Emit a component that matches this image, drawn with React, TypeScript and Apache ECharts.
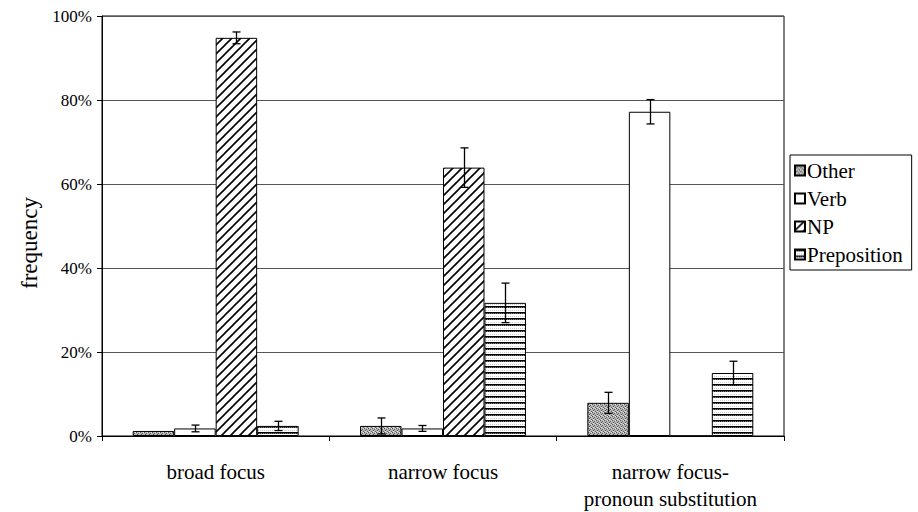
import React, { useEffect, useRef } from 'react';
import * as echarts from 'echarts';

const categories = ['broad focus', 'narrow focus', 'narrow focus-\npronoun substitution'];
const seriesNames = ['Other', 'Verb', 'NP', 'Preposition'];
const otherValues = [1.2, 2.4, 7.9];
const verbValues = [1.8, 1.8, 77.2];
const npValues = [94.8, 63.9, 0];
const prepValues = [2.4, 31.7, 15.0];
const otherErrors = [0, 1.9, 2.5];
const verbErrors = [0.8, 0.7, 2.9];
const npErrors = [1.4, 4.7, 0];
const prepErrors = [1.1, 4.7, 2.8];

const FONT = "'Liberation Serif', 'Times New Roman', serif";
const GAP = 0.27;

function makePattern(w: number, h: number, draw: (ctx: CanvasRenderingContext2D) => void) {
  const c = document.createElement('canvas');
  c.width = w;
  c.height = h;
  const ctx = c.getContext('2d') as CanvasRenderingContext2D;
  draw(ctx);
  return { image: c.toDataURL(), imageWidth: w, imageHeight: h, repeat: 'repeat' };
}

function px(ctx: CanvasRenderingContext2D, x: number, y: number, col: string) {
  ctx.fillStyle = col;
  ctx.fillRect(x, y, 1, 1);
}

export default function App() {
  const ref = useRef<HTMLDivElement>(null);
  useEffect(() => {
    if (!ref.current) return;
    const chart = echarts.init(ref.current, null, { renderer: 'svg' });

    const stipple = makePattern(4, 4, (ctx) => {
      ctx.fillStyle = '#b4b4b4';
      ctx.fillRect(0, 0, 4, 4);
      px(ctx, 0, 0, '#505050');
      px(ctx, 2, 1, '#606060');
      px(ctx, 1, 2, '#505050');
      px(ctx, 3, 3, '#606060');
      px(ctx, 3, 0, '#e6e6e6');
      px(ctx, 1, 3, '#e6e6e6');
    });
    const hatch = makePattern(9, 9, (ctx) => {
      ctx.fillStyle = '#ffffff';
      ctx.fillRect(0, 0, 9, 9);
      ctx.strokeStyle = '#000000';
      ctx.lineWidth = 1.6;
      ctx.beginPath();
      ctx.moveTo(-1, 10);
      ctx.lineTo(10, -1);
      ctx.moveTo(-2, 2);
      ctx.lineTo(2, -2);
      ctx.moveTo(7, 11);
      ctx.lineTo(11, 7);
      ctx.stroke();
    });
    const stripes = makePattern(2, 6, (ctx) => {
      ctx.fillStyle = '#ffffff';
      ctx.fillRect(0, 0, 2, 6);
      ctx.fillStyle = '#000000';
      ctx.fillRect(0, 0, 2, 1);
      px(ctx, 0, 1, '#222222');
      px(ctx, 1, 1, '#777777');
      px(ctx, 0, 4, '#cccccc');
    });

    const patterns: any[] = [stipple, '#ffffff', hatch, stripes];
    const values = [otherValues, verbValues, npValues, prepValues];
    const errors = [otherErrors, verbErrors, npErrors, prepErrors];

    const barSeries = seriesNames.map((name, i) => ({
      name,
      type: 'bar',
      data: values[i],
      barGap: '0%',
      barCategoryGap: GAP * 100 + '%',
      itemStyle: { color: patterns[i], borderColor: '#000', borderWidth: 1 },
    }));

    const errData: number[][] = [];
    errors.forEach((arr, s) => {
      arr.forEach((e, c) => {
        errData.push([c, s, values[s][c], e]);
      });
    });

    const errSeries = {
      type: 'custom',
      name: 'err',
      z: 10,
      silent: true,
      encode: { x: 0, y: 2 },
      data: errData,
      renderItem: (params: any, api: any) => {
        const c = api.value(0);
        const s = api.value(1);
        const v = api.value(2);
        const e = api.value(3);
        if (!e) return null;
        const center = api.coord([c, 0]);
        const band = api.size([1, 0])[0];
        const bw = (band * (1 - GAP)) / 4;
        const x = Math.round(center[0] - 2 * bw + bw * (s + 0.5)) + 0.5;
        const top = api.coord([c, v + e])[1];
        const bot = api.coord([c, Math.max(0, v - e)])[1];
        const cap = 4;
        const st = { stroke: '#000', lineWidth: 1.3 };
        return {
          type: 'group',
          children: [
            { type: 'line', shape: { x1: x, y1: top, x2: x, y2: bot }, style: st },
            { type: 'line', shape: { x1: x - cap, y1: top, x2: x + cap, y2: top }, style: st },
            { type: 'line', shape: { x1: x - cap, y1: bot, x2: x + cap, y2: bot }, style: st },
          ],
        };
      },
    };

    chart.setOption({
      animation: false,
      backgroundColor: '#ffffff',
      textStyle: { fontFamily: FONT, color: '#000' },
      grid: {
        left: 102,
        right: 134,
        top: 16,
        bottom: 75.5,
        show: true,
        borderColor: '#000',
        borderWidth: 1,
        backgroundColor: 'transparent',
      },
      legend: {
        data: seriesNames,
        orient: 'vertical',
        left: 790,
        top: 155,
        itemWidth: 10,
        itemHeight: 10,
        itemGap: 7,
        padding: [5, 9, 5, 4],
        borderColor: '#000',
        borderWidth: 1,
        borderRadius: 0,
        icon: 'rect',
        selectedMode: false,
        textStyle: { fontFamily: FONT, fontSize: 21, color: '#000', padding: [0, 0, 0, -3] },
      },
      xAxis: {
        type: 'category',
        data: categories,
        axisLine: { lineStyle: { color: '#000', width: 1 } },
        axisTick: { show: true, length: 5, lineStyle: { color: '#000' } },
        axisLabel: {
          fontFamily: FONT,
          fontSize: 21,
          color: '#000',
          margin: 22,
          lineHeight: 27,
          interval: 0,
        },
      },
      yAxis: {
        type: 'value',
        min: 0,
        max: 100,
        interval: 20,
        name: 'frequency',
        nameLocation: 'middle',
        nameGap: 52,
        nameTextStyle: { fontFamily: FONT, fontSize: 23, color: '#000', padding: [0, 0, 0, -34] },
        axisLine: { show: true, lineStyle: { color: '#000', width: 1 } },
        axisTick: { show: true, length: 5, lineStyle: { color: '#000' } },
        axisLabel: {
          fontFamily: FONT,
          fontSize: 17,
          color: '#000',
          margin: 10,
          formatter: '{value}%',
        },
        splitLine: { show: true, lineStyle: { color: '#555', width: 1 } },
      },
      series: [...barSeries, errSeries],
    });

    return () => chart.dispose();
  }, []);

  return (
    <div
      ref={ref}
      style={{ position: 'absolute', left: 0, top: 0, width: 918, height: 512, background: '#fff' }}
    />
  );
}
